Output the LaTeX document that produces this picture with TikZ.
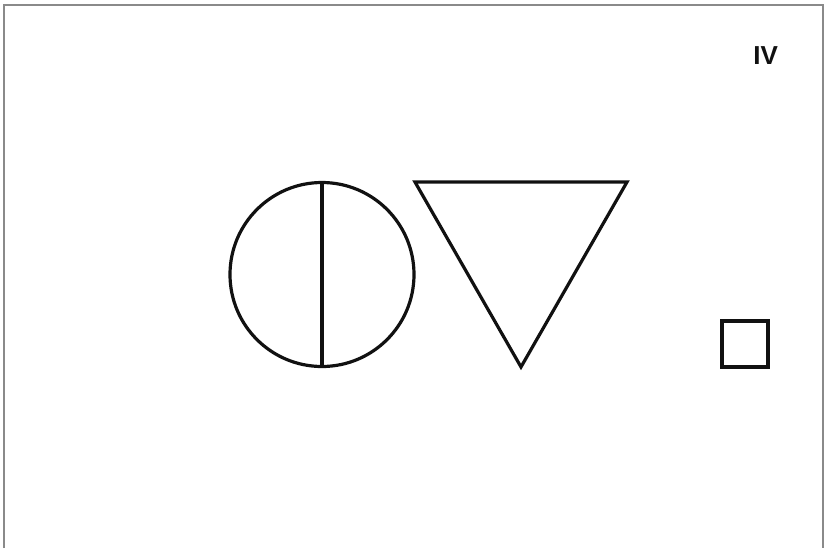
\documentclass[tikz,border=0pt]{standalone}
\usepackage{fontspec}
\setsansfont{Liberation Sans}
\usepackage{tikz}
\usetikzlibrary{positioning}
\definecolor{ink}{HTML}{111111}
\definecolor{framegray}{HTML}{8A8A8A}

\begin{document}
\begin{tikzpicture}[
  x=0.5pt, y=-0.5pt,
  font=\sffamily,
  figline/.style={draw=ink, line width=1.6pt, line join=miter},
  frameline/.style={draw=framegray, line width=0.6pt}
]
  \useasboundingbox (0,0) rectangle (827,548);

  % Frame
  \draw[frameline] (4,548) -- (4,5) -- (823,5) -- (823,548);

  % Plate number
  \node[font=\sffamily\bfseries\fontsize{13}{13}\selectfont, text=ink, anchor=west, inner sep=0pt] (platenum) at (753,56) {IV};

  % Circle split by a vertical diameter
  \coordinate (ctr) at (322,274.5);
  \draw[figline] (ctr) circle[radius=92];
  \draw[figline] (322,182.5) -- (322,366.5);

  % Inverted triangle
  \draw[figline] (415,182) -- (627,182) -- (521,367) -- cycle;

  % Small square
  \draw[figline] (722,321) rectangle (768,367);

\end{tikzpicture}
\end{document}
